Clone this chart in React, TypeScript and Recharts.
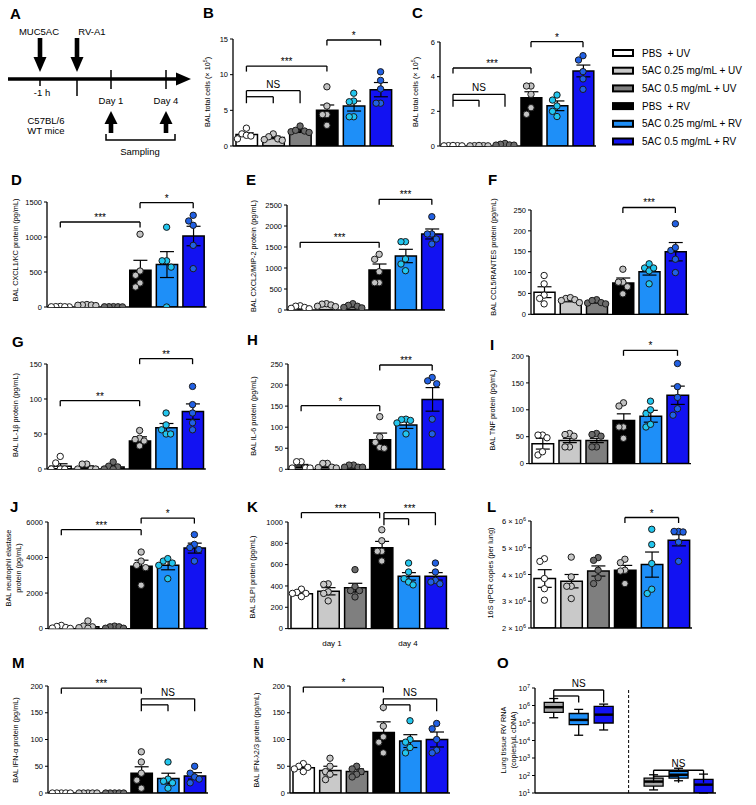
import React from 'react';
import { ComposedChart, Bar, Cell, ErrorBar, Scatter, XAxis, YAxis, ReferenceLine } from 'recharts';

const FONT = '"Liberation Sans", Arial, Helvetica, sans-serif';

const LEGEND_LABELS = ['PBS  + UV', '5AC 0.25 mg/mL + UV', '5AC 0.5 mg/mL + UV', 'PBS  + RV', '5AC 0.25 mg/mL + RV', '5AC 0.5 mg/mL + RV'];
const BAR_FILLS = ['#ffffff', '#c9c9c9', '#7f7f7f', '#000000', '#1e8ff8', '#1212f2'];
const DOT_FILLS = ['#ffffff', '#c8c8c8', '#6b6b6b', '#c2c2c2', '#22c6ee', '#2160e4'];

// ---- data ----
const B_MEANS = [1.6, 1.2, 2.1, 5.0, 5.6, 7.9];
const B_SEMS = [0.25, 0.18, 0.2, 0.75, 0.7, 1.0];
const B_POINTS = [[2.5, 1.7, 1.5, 1.4, 1.0], [1.7, 1.3, 1.0, 0.9, 0.8], [2.8, 2.0, 2.1, 2.2, 1.9], [8.3, 5.6, 4.4, 4.4, 2.9], [7.4, 6.3, 6.2, 4.1, 4.1], [10.4, 9.2, 8.0, 6.0, 6.0]];
const B_TICKS = [0, 5, 10, 15];

const C_MEANS = [0.02, 0.02, 0.08, 2.79, 2.32, 4.33];
const C_SEMS = [0.01, 0.01, 0.03, 0.34, 0.28, 0.34];
const C_POINTS = [[0.02, 0.01, 0.02, 0.01, 0.03], [0.02, 0.01, 0.02, 0.03, 0.01], [0.15, 0.1, 0.06, 0.05, 0.05], [3.46, 3.46, 2.98, 2.21, 1.83], [2.94, 2.65, 2.31, 2.0, 1.7], [5.21, 4.96, 4.29, 3.87, 3.27]];
const C_TICKS = [0, 2, 4, 6];

const D_MEANS = [5, 25, 5, 524, 606, 1014];
const D_SEMS = [2, 5, 2, 143, 185, 139];
const D_POINTS = [[8, 5, 3, 2, 4], [35, 30, 28, 25, 20], [5, 3, 2, 4, 3], [1040, 514, 453, 343, 286], [1140, 660, 660, 570, 0], [1310, 1229, 1167, 881, 548]];
const D_TICKS = [0, 500, 1000, 1500];

const E_MEANS = [60, 115, 90, 952, 1286, 1810];
const E_SEMS = [15, 20, 20, 143, 159, 119];
const E_POINTS = [[100, 90, 60, 40, 30], [150, 140, 120, 90, 80], [150, 110, 90, 60, 50], [1326, 1207, 912, 650, 650], [1626, 1626, 1214, 1095, 936], [2221, 1810, 1810, 1690, 1571]];
const E_TICKS = [0, 500, 1000, 1500, 2000, 2500];

const F_MEANS = [53, 33, 29, 75, 102, 150];
const F_SEMS = [13, 3, 2, 12, 8, 22];
const F_POINTS = [[93, 73, 46, 38, 25], [38, 40, 35, 28, 33], [27, 35, 33, 28, 25], [108, 77, 77, 66, 49], [111, 104, 121, 111, 73], [217, 153, 160, 132, 100]];
const F_TICKS = [0, 50, 100, 150, 200, 250];

const G_MEANS = [4, 3, 3, 40, 59, 82];
const G_SEMS = [3.5, 1.5, 2, 6, 6, 11];
const G_POINTS = [[18, 8.6, 0, 0, 0], [7, 7, 0, 0, 0], [10, 4, 3, 0, 0], [55, 44, 42, 40, 33], [80, 63, 56, 50, 50], [118, 92, 80, 66, 56]];
const G_TICKS = [0, 50, 100, 150];

const H_MEANS = [8, 7, 7, 70, 105, 166];
const H_SEMS = [3.5, 2.5, 1.5, 16, 8, 28];
const H_POINTS = [[18, 18, 3, 3, 3], [14, 14, 5, 4, 3], [10, 10, 5, 5, 5], [125, 77, 64, 52, 50], [119, 118, 116, 110, 84], [218, 210, 203, 119, 84]];
const H_TICKS = [0, 50, 100, 150, 200, 250];

const I_MEANS = [37, 43, 43, 80, 88, 127];
const I_SEMS = [10, 4, 4, 12.5, 11, 17];
const I_POINTS = [[53, 53, 48, 16, 22], [56, 51, 54, 31, 31], [56, 51, 54, 31, 31], [113, 107, 68, 68, 47], [116, 93, 100, 68, 73], [186, 143, 123, 102, 90]];
const I_TICKS = [0, 50, 100, 150, 200];

const J_MEANS = [80, 100, 60, 3510, 3560, 4530];
const J_SEMS = [30, 70, 25, 340, 250, 280];
const J_POINTS = [[180, 120, 60, 30, 10], [430, 140, 100, 50, 20], [140, 100, 100, 20, 20], [4310, 3800, 3560, 3430, 2440], [3800, 3940, 3690, 3560, 2810], [5290, 4740, 4560, 4450, 3800]];
const J_TICKS = [0, 2000, 4000, 6000];

const K_MEANS = [328, 350, 384, 759, 490, 490];
const K_SEMS = [15, 34, 41, 59, 35, 35];
const K_POINTS = [[370, 340, 330, 330, 300], [420, 415, 345, 330, 260], [553, 394, 356, 356, 297], [927, 824, 725, 725, 634], [615, 531, 468, 437, 410], [615, 531, 453, 437, 420]];
const K_TICKS = [0, 200, 400, 600, 800, 1000];

const L_MEANS = [3.85e6, 3.75e6, 4.13e6, 4.16e6, 4.37e6, 5.28e6];
const L_SEMS = [0.33e6, 0.25e6, 0.19e6, 0.18e6, 0.47e6, 0.21e6];
const L_POINTS = [[4.59e6, 4.49e6, 3.85e6, 3.47e6, 3.04e6], [4.65e6, 3.91e6, 3.56e6, 3.56e6, 3.1e6], [4.63e6, 4.53e6, 4.16e6, 3.88e6, 3.66e6], [4.57e6, 4.44e6, 4.16e6, 4.13e6, 3.66e6], [5.69e6, 5.12e6, 4.41e6, 3.29e6, 3.45e6], [5.61e6, 5.61e6, 5.59e6, 5.21e6, 4.49e6]];
const L_TICKS = [2e6, 3e6, 4e6, 5e6, 6e6];

const M_MEANS = [0, 0, 0, 37, 27, 32];
const M_SEMS = [0, 0, 0, 12, 10, 6];
const M_POINTS = [[0, 0, 0, 0, 0], [0, 0, 0, 0, 0], [0, 0, 0, 0, 0], [77, 58, 37, 24, 9], [58, 26, 19, 9, 22], [50, 37, 30, 26, 19]];
const M_TICKS = [0, 50, 100, 150, 200];

const N_MEANS = [47, 42, 40, 113, 97, 100];
const N_SEMS = [3, 8, 5, 20, 12, 14];
const N_POINTS = [[55, 50, 48, 45, 40], [65, 50, 40, 35, 25], [50, 45, 40, 35, 30], [160, 125, 105, 95, 75], [135, 100, 95, 85, 75], [130, 120, 100, 80, 75]];
const N_TICKS = [0, 50, 100, 150, 200];

const O_POS = [0, 1, 2, 4, 5, 6];
const O_MIN = [2e5, 2e4, 4e4, 15, 50, 10];
const O_Q1 = [4e5, 8e4, 1e5, 25, 70, 10];
const O_MED = [8e5, 1.5e5, 3e5, 45, 110, 30];
const O_Q3 = [1.5e6, 3.5e5, 9e5, 70, 170, 60];
const O_MAX = [2.5e6, 6e5, 1.2e6, 110, 260, 120];
const O_FILLS = ['#a8a8a8', '#1e8ff8', '#1212f2', '#a8a8a8', '#1e8ff8', '#1212f2'];
const O_TICKS = [1e1, 1e2, 1e3, 1e4, 1e5, 1e6, 1e7];

type Br = { from: number; to: number; inner?: number; y: number; label: string };

const B_BR: Br[] = [{ from: 0, to: 2, inner: 1, y: 7.75, label: 'NS' }, { from: 0, to: 3, y: 11.2, label: '***' }, { from: 3, to: 5, y: 14.86, label: '*' }];
const C_BR: Br[] = [{ from: 0, to: 2, inner: 1, y: 2.98, label: 'NS' }, { from: 0, to: 3, y: 4.5, label: '***' }, { from: 3, to: 5, y: 6.02, label: '*' }];
const D_BR: Br[] = [{ from: 0, to: 3, y: 1214, label: '***' }, { from: 3, to: 5, y: 1491, label: '*' }];
const E_BR: Br[] = [{ from: 0, to: 3, y: 1612, label: '***' }, { from: 3, to: 5, y: 2636, label: '***' }];
const F_BR: Br[] = [{ from: 3, to: 5, y: 256, label: '***' }];
const G_BR: Br[] = [{ from: 0, to: 3, y: 97.6, label: '**' }, { from: 3, to: 5, y: 157.6, label: '**' }];
const H_BR: Br[] = [{ from: 0, to: 3, y: 151, label: '*' }, { from: 3, to: 5, y: 247.6, label: '***' }];
const I_BR: Br[] = [{ from: 3, to: 5, y: 210.6, label: '*' }];
const J_BR: Br[] = [{ from: 0, to: 3, y: 5568, label: '***' }, { from: 3, to: 5, y: 6220, label: '*' }];
const K_BR: Br[] = [{ from: 0, to: 2.92, y: 1087, label: '***' }, { from: 3.08, to: 5, inner: 4, y: 1087, label: '***' }];
const L_BR: Br[] = [{ from: 3, to: 5, y: 6.13e6, label: '*' }];
const M_BR: Br[] = [{ from: 0, to: 3, y: 196, label: '***' }, { from: 3, to: 5, inner: 4, y: 176, label: 'NS' }];
const N_BR: Br[] = [{ from: 0, to: 3, y: 198, label: '*' }, { from: 3, to: 5, inner: 4, y: 176, label: 'NS' }];
const O_BR: Br[] = [{ from: 0, to: 2, inner: 1, y: 7.7e6, label: 'NS' }, { from: 4, to: 6, inner: 5, y: 200, label: 'NS' }];

// ---- helpers ----
function swarm(vals: number[], idx: number, pxY: number, pxX: number) {
  const placed: { dx: number; py: number }[] = [];
  const order = vals.map((_, k) => k).sort((a, b) => vals[b] - vals[a]);
  const res: { x: number; y: number }[] = new Array(vals.length);
  const cands = [0, -4.5, 4.5, -9, 9, -13, 13];
  for (const k of order) {
    const py = vals[k] * pxY;
    let chosen = 0;
    for (const c of cands) {
      if (placed.every(p => Math.abs(p.py - py) >= 7 || Math.abs(p.dx - c) >= 4.5)) { chosen = c; break; }
    }
    placed.push({ dx: chosen, py });
    res[k] = { x: idx + chosen / pxX, y: vals[k] };
  }
  return res;
}

const LINE = { stroke: '#000', strokeWidth: 1.3 };

function bracketEls(list: Br[], shift: (y: number, px: number) => number, pre: string) {
  const els: any[] = [];
  list.forEach((b, n) => {
    const lab = { value: b.label, position: 'top' as const, offset: b.label === 'NS' ? 3 : 1, fontSize: 10, fill: '#000', fontFamily: FONT };
    const k = pre + n;
    if (b.inner === undefined) {
      const bot = shift(b.y, 5.5);
      els.push(<ReferenceLine key={k + 'h'} ifOverflow="visible" segment={[{ x: b.from, y: b.y }, { x: b.to, y: b.y }]} label={lab} {...LINE} />);
      els.push(<ReferenceLine key={k + 'l'} ifOverflow="visible" segment={[{ x: b.from, y: b.y }, { x: b.from, y: bot }]} {...LINE} />);
      els.push(<ReferenceLine key={k + 'r'} ifOverflow="visible" segment={[{ x: b.to, y: b.y }, { x: b.to, y: bot }]} {...LINE} />);
    } else {
      const iy = shift(b.y, 6);
      const bot = shift(b.y, 12.5);
      els.push(<ReferenceLine key={k + 'h'} ifOverflow="visible" segment={[{ x: b.from, y: b.y }, { x: b.to, y: b.y }]} label={lab} {...LINE} />);
      els.push(<ReferenceLine key={k + 'l'} ifOverflow="visible" segment={[{ x: b.from, y: b.y }, { x: b.from, y: bot }]} {...LINE} />);
      els.push(<ReferenceLine key={k + 'r'} ifOverflow="visible" segment={[{ x: b.to, y: b.y }, { x: b.to, y: bot }]} {...LINE} />);
      els.push(<ReferenceLine key={k + 'i'} ifOverflow="visible" segment={[{ x: b.from, y: iy }, { x: b.inner, y: iy }]} {...LINE} />);
      els.push(<ReferenceLine key={k + 'j'} ifOverflow="visible" segment={[{ x: b.inner, y: iy }, { x: b.inner, y: bot }]} {...LINE} />);
    }
  });
  return els;
}

const tickStyle = { fontSize: 7.5, fill: '#000', fontFamily: FONT };

const LTick = (props: any) => {
  const { x, y, payload } = props;
  const m = Math.round(payload.value / 1e6);
  return (
    <text x={x} y={y} dy={3} textAnchor="end" fontSize={7.5} fontFamily={FONT} fill="#000">
      {m} × 10<tspan dy={-3} fontSize={5.5}>6</tspan>
    </text>
  );
};

const OTick = (props: any) => {
  const { x, y, payload } = props;
  const e = Math.round(Math.log10(payload.value));
  return (
    <text x={x} y={y} dy={3} textAnchor="end" fontSize={7.5} fontFamily={FONT} fill="#000">
      10<tspan dy={-3} fontSize={5.5}>{e}</tspan>
    </text>
  );
};

type PanelProps = {
  x0: number; x1: number; y0: number; y1: number;
  domain: [number, number]; ticks: number[];
  means: number[]; sems: number[]; pts: number[][]; brackets: Br[];
  tick?: any; yw?: number; id: string;
};

function BarPanel(p: PanelProps) {
  const YW = p.yw ?? 30, TM = 50, BM = 8, RM = 6;
  const plotW = p.x1 - p.x0, plotH = p.y1 - p.y0;
  const pxX = plotW / 6;
  const pxY = plotH / (p.domain[1] - p.domain[0]);
  const data = p.means.map((m, i) => ({ x: i, mean: m, sem: p.sems[i] }));
  const dots = p.pts.flatMap((vals, i) => swarm(vals, i, pxY, pxX).map(d => ({ ...d, fill: DOT_FILLS[i] })));
  const shift = (y: number, px: number) => y - px / pxY;
  return (
    <div style={{ position: 'absolute', left: p.x0 - YW, top: p.y0 - TM }}>
      <ComposedChart width={plotW + YW + RM} height={plotH + TM + BM} data={data} margin={{ top: TM, right: RM, bottom: 0, left: 0 }}>
        <XAxis type="number" dataKey="x" domain={[-0.5, 5.5]} allowDataOverflow tick={false} tickLine={false} axisLine={{ stroke: '#000', strokeWidth: 1.3 }} height={BM} />
        <XAxis xAxisId="s" type="number" dataKey="x" domain={[-0.5, 5.5]} allowDataOverflow hide />
        <YAxis type="number" domain={p.domain} ticks={p.ticks} interval={0} allowDataOverflow width={YW} tickSize={3} tickMargin={2}
          tick={p.tick ?? tickStyle} tickLine={{ stroke: '#000', strokeWidth: 1 }} axisLine={{ stroke: '#000', strokeWidth: 1.3 }} />
        <Bar dataKey="mean" barSize={pxX * 0.8} stroke="#000" strokeWidth={1.5} isAnimationActive={false}>
          {data.map((_, i) => <Cell key={i} fill={BAR_FILLS[i]} />)}
          <ErrorBar dataKey="sem" width={7} stroke="#000" strokeWidth={1.2} direction="y" />
        </Bar>
        <Scatter xAxisId="s" data={dots} dataKey="y" isAnimationActive={false}
          shape={(s: any) => <circle cx={s.cx} cy={s.cy} r={3.2} fill={s.payload.fill} stroke="#1a1a1a" strokeWidth={1} />} />
        {bracketEls(p.brackets, shift, p.id)}
      </ComposedChart>
    </div>
  );
}

function BoxPanel() {
  const x0 = 535, x1 = 716, y0 = 688, y1 = 793, YW = 22, TM = 30, BM = 8, RM = 6;
  const plotW = x1 - x0, plotH = y1 - y0;
  const dec = plotH / 6;
  const data = O_POS.map((x, i) => ({ x, box: [O_Q1[i], O_Q3[i]] }));
  const shift = (y: number, px: number) => y / Math.pow(10, px / dec);
  const els: any[] = [];
  O_POS.forEach((x, i) => {
    els.push(<ReferenceLine key={'wu' + i} ifOverflow="visible" segment={[{ x, y: O_Q3[i] }, { x, y: O_MAX[i] }]} {...LINE} />);
    els.push(<ReferenceLine key={'wl' + i} ifOverflow="visible" segment={[{ x, y: O_MIN[i] }, { x, y: O_Q1[i] }]} {...LINE} />);
    els.push(<ReferenceLine key={'cu' + i} ifOverflow="visible" segment={[{ x: x - 0.18, y: O_MAX[i] }, { x: x + 0.18, y: O_MAX[i] }]} {...LINE} />);
    els.push(<ReferenceLine key={'cl' + i} ifOverflow="visible" segment={[{ x: x - 0.18, y: O_MIN[i] }, { x: x + 0.18, y: O_MIN[i] }]} {...LINE} />);
    els.push(<ReferenceLine key={'md' + i} ifOverflow="visible" segment={[{ x: x - 0.38, y: O_MED[i] }, { x: x + 0.38, y: O_MED[i] }]} stroke="#000" strokeWidth={2.5} />);
  });
  return (
    <div style={{ position: 'absolute', left: x0 - YW, top: y0 - TM }}>
      <ComposedChart width={plotW + YW + RM} height={plotH + TM + BM} data={data} margin={{ top: TM, right: RM, bottom: 0, left: 0 }}>
        <XAxis type="number" dataKey="x" domain={[-0.75, 6.5]} allowDataOverflow tick={false} tickLine={false} axisLine={{ stroke: '#000', strokeWidth: 1.3 }} height={BM} />
        <YAxis type="number" scale="log" domain={[10, 1e7]} ticks={O_TICKS} interval={0} allowDataOverflow width={YW} tickSize={3} tickMargin={2}
          tick={<OTick />} tickLine={{ stroke: '#000', strokeWidth: 1 }} axisLine={{ stroke: '#000', strokeWidth: 1.3 }} />
        <Bar dataKey="box" barSize={19} stroke="#000" strokeWidth={1.3} isAnimationActive={false}>
          {data.map((_, i) => <Cell key={i} fill={O_FILLS[i]} />)}
        </Bar>
        {els}
        <ReferenceLine x={3} stroke="#000" strokeWidth={1} strokeDasharray="3 2" ifOverflow="visible" />
        {bracketEls(O_BR, shift, 'o')}
      </ComposedChart>
    </div>
  );
}

const LETTERS: [string, number, number][] = [['A', 10, 18.5], ['B', 203, 18], ['C', 412, 18], ['D', 11, 184.5], ['E', 246, 184.5], ['F', 488, 184.5], ['G', 12, 347], ['H', 247, 345], ['I', 490, 350], ['J', 10, 512], ['K', 247, 512], ['L', 487, 512], ['M', 12, 668], ['N', 253, 668], ['O', 497, 668]];

const YLABELS: [number, number, string][] = [
  [15, 250, 'BAL CXCL1/KC protein (pg/mL)'],
  [253, 256, 'BAL CXCL2/MIP-2 protein (pg/mL)'],
  [493, 257, 'BAL CCL5/RANTES protein (pg/mL)'],
  [15, 415, 'BAL IL-1β protein (pg/mL)'],
  [253, 416, 'BAL IL-6 protein (pg/mL)'],
  [492, 410, 'BAL TNF protein (pg/mL)'],
  [8.3, 568, 'BAL neutrophil elastase'],
  [18.3, 568, 'protein (pg/mL)'],
  [252, 577, 'BAL SLPI protein (pg/mL)'],
  [490, 573, '16S qPCR copies (per lung)'],
  [15, 740, 'BAL IFN-α protein (pg/mL)'],
  [256, 740, 'BAL IFN-λ2/3 protein (pg/mL)'],
  [503, 740, 'Lung tissue RV RNA'],
  [513, 740, '(copies/μL cDNA)'],
];

function Overlay() {
  const txt = { fontFamily: FONT, fill: '#000' };
  const downArrow = (x: number) => (
    <g key={'d' + x}>
      <rect x={x - 2.3} y={38} width={4.6} height={21} fill="#000" />
      <polygon points={`${x - 6.5},57 ${x + 6.5},57 ${x},72`} fill="#000" />
    </g>
  );
  const upArrow = (x: number) => (
    <g key={'u' + x}>
      <rect x={x - 2.3} y={122} width={4.6} height={11} fill="#000" />
      <polygon points={`${x - 6.5},124 ${x + 6.5},124 ${x},111`} fill="#000" />
    </g>
  );
  const yl = (x: number, cy: number, s: string, sup?: string, tail?: string, k?: string) => (
    <text key={k ?? s + x} x={x} y={cy} transform={`rotate(-90 ${x} ${cy})`} textAnchor="middle" dominantBaseline="central" fontSize={7.3} {...txt}>
      {s}{sup !== undefined && <tspan dy={-2.5} fontSize={5.2}>{sup}</tspan>}{tail !== undefined && <tspan dy={2.5}>{tail}</tspan>}
    </text>
  );
  return (
    <svg width={756} height={805} style={{ position: 'absolute', left: 0, top: 0, pointerEvents: 'none' }}>
      <line x1={8} y1={79} x2={178} y2={79} stroke="#000" strokeWidth={3.5} />
      <polygon points="176,72.5 176,85.5 191,79" fill="#000" />
      {downArrow(40)}
      {downArrow(77)}
      <line x1={40} y1={79} x2={40} y2={86} stroke="#000" strokeWidth={1.5} />
      <line x1={77} y1={79} x2={77} y2={96} stroke="#000" strokeWidth={1.5} />
      <line x1={111} y1={70} x2={111} y2={89} stroke="#000" strokeWidth={1.5} />
      <line x1={166} y1={70} x2={166} y2={89} stroke="#000" strokeWidth={1.5} />
      {upArrow(111)}
      {upArrow(166)}
      <polyline points="106,134 106,140 175,140 175,134" fill="none" stroke="#000" strokeWidth={1.5} />
      <text x={39} y={35} textAnchor="middle" fontSize={9.5} {...txt}>MUC5AC</text>
      <text x={92} y={35} textAnchor="middle" fontSize={9.5} {...txt}>RV-A1</text>
      <text x={42} y={96} textAnchor="middle" fontSize={9.5} {...txt}>-1 h</text>
      <text x={111} y={104} textAnchor="middle" fontSize={9.5} {...txt}>Day 1</text>
      <text x={166} y={104} textAnchor="middle" fontSize={9.5} {...txt}>Day 4</text>
      <text x={46} y={124} textAnchor="middle" fontSize={9.5} {...txt}>C57BL/6</text>
      <text x={46} y={134} textAnchor="middle" fontSize={9.5} {...txt}>WT mice</text>
      <text x={140} y={155} textAnchor="middle" fontSize={9.5} {...txt}>Sampling</text>

      {LEGEND_LABELS.map((l, i) => {
        const cy = 53 + i * 17.7;
        return (
          <g key={'lg' + i}>
            <rect x={613} y={cy - 3} width={20} height={6} fill={BAR_FILLS[i]} stroke="#000" strokeWidth={2} />
            <text x={642} y={cy + 3.6} fontSize={10} style={{ whiteSpace: 'pre' }} {...txt}>{l}</text>
          </g>
        );
      })}

      {LETTERS.map(([l, x, y]) => (
        <text key={'L' + l} x={x} y={y} fontSize={15} fontWeight="bold" {...txt}>{l}</text>
      ))}

      {yl(207, 92, 'BAL total cells (× 10', '5', ')', 'yb')}
      {yl(415.7, 92, 'BAL total cells (× 10', '5', ')', 'yc')}
      {YLABELS.map(([x, cy, s]) => yl(x, cy, s))}

      <text x={332} y={646} textAnchor="middle" fontSize={8} {...txt}>day 1</text>
      <text x={408} y={646} textAnchor="middle" fontSize={8} {...txt}>day 4</text>
    </svg>
  );
}

export default function App() {
  return (
    <div style={{ position: 'absolute', left: 0, top: 0, width: 756, height: 805, background: '#fff', fontFamily: FONT }}>
      <BarPanel id="b" x0={233} x1={394} y0={39} y1={146} domain={[0, 15]} ticks={B_TICKS} means={B_MEANS} sems={B_SEMS} pts={B_POINTS} brackets={B_BR} />
      <BarPanel id="c" x0={440} x1={596} y0={42} y1={146} domain={[0, 6]} ticks={C_TICKS} means={C_MEANS} sems={C_SEMS} pts={C_POINTS} brackets={C_BR} />
      <BarPanel id="d" x0={46.5} x1={206} y0={201.7} y1={306.7} domain={[0, 1500]} ticks={D_TICKS} means={D_MEANS} sems={D_SEMS} pts={D_POINTS} brackets={D_BR} />
      <BarPanel id="e" x0={287} x1={445} y0={205} y1={310} domain={[0, 2500]} ticks={E_TICKS} means={E_MEANS} sems={E_SEMS} pts={E_POINTS} brackets={E_BR} />
      <BarPanel id="f" x0={530.5} x1={688} y0={210} y1={314.3} domain={[0, 250]} ticks={F_TICKS} means={F_MEANS} sems={F_SEMS} pts={F_POINTS} brackets={F_BR} />
      <BarPanel id="g" x0={46.7} x1={205.5} y0={364.3} y1={469.3} domain={[0, 150]} ticks={G_TICKS} means={G_MEANS} sems={G_SEMS} pts={G_POINTS} brackets={G_BR} />
      <BarPanel id="h" x0={287.7} x1={445} y0={364} y1={469.3} domain={[0, 250]} ticks={H_TICKS} means={H_MEANS} sems={H_SEMS} pts={H_POINTS} brackets={H_BR} />
      <BarPanel id="i" x0={529} x1={691} y0={355.7} y1={463.3} domain={[0, 200]} ticks={I_TICKS} means={I_MEANS} sems={I_SEMS} pts={I_POINTS} brackets={I_BR} />
      <BarPanel id="j" x0={48.3} x1={208} y0={521.7} y1={628.3} domain={[0, 6000]} ticks={J_TICKS} means={J_MEANS} sems={J_SEMS} pts={J_POINTS} brackets={J_BR} />
      <BarPanel id="k" x0={287.5} x1={448.3} y0={521.7} y1={628.3} domain={[0, 1000]} ticks={K_TICKS} means={K_MEANS} sems={K_SEMS} pts={K_POINTS} brackets={K_BR} />
      <BarPanel id="l" x0={531} x1={692} y0={520.7} y1={627.7} domain={[2e6, 6e6]} ticks={L_TICKS} means={L_MEANS} sems={L_SEMS} pts={L_POINTS} brackets={L_BR} tick={<LTick />} yw={36} />
      <BarPanel id="m" x0={48} x1={208} y0={686} y1={793} domain={[0, 200]} ticks={M_TICKS} means={M_MEANS} sems={M_SEMS} pts={M_POINTS} brackets={M_BR} />
      <BarPanel id="n" x0={290} x1={450} y0={686} y1={793} domain={[0, 200]} ticks={N_TICKS} means={N_MEANS} sems={N_SEMS} pts={N_POINTS} brackets={N_BR} />
      <BoxPanel />
      <Overlay />
    </div>
  );
}
